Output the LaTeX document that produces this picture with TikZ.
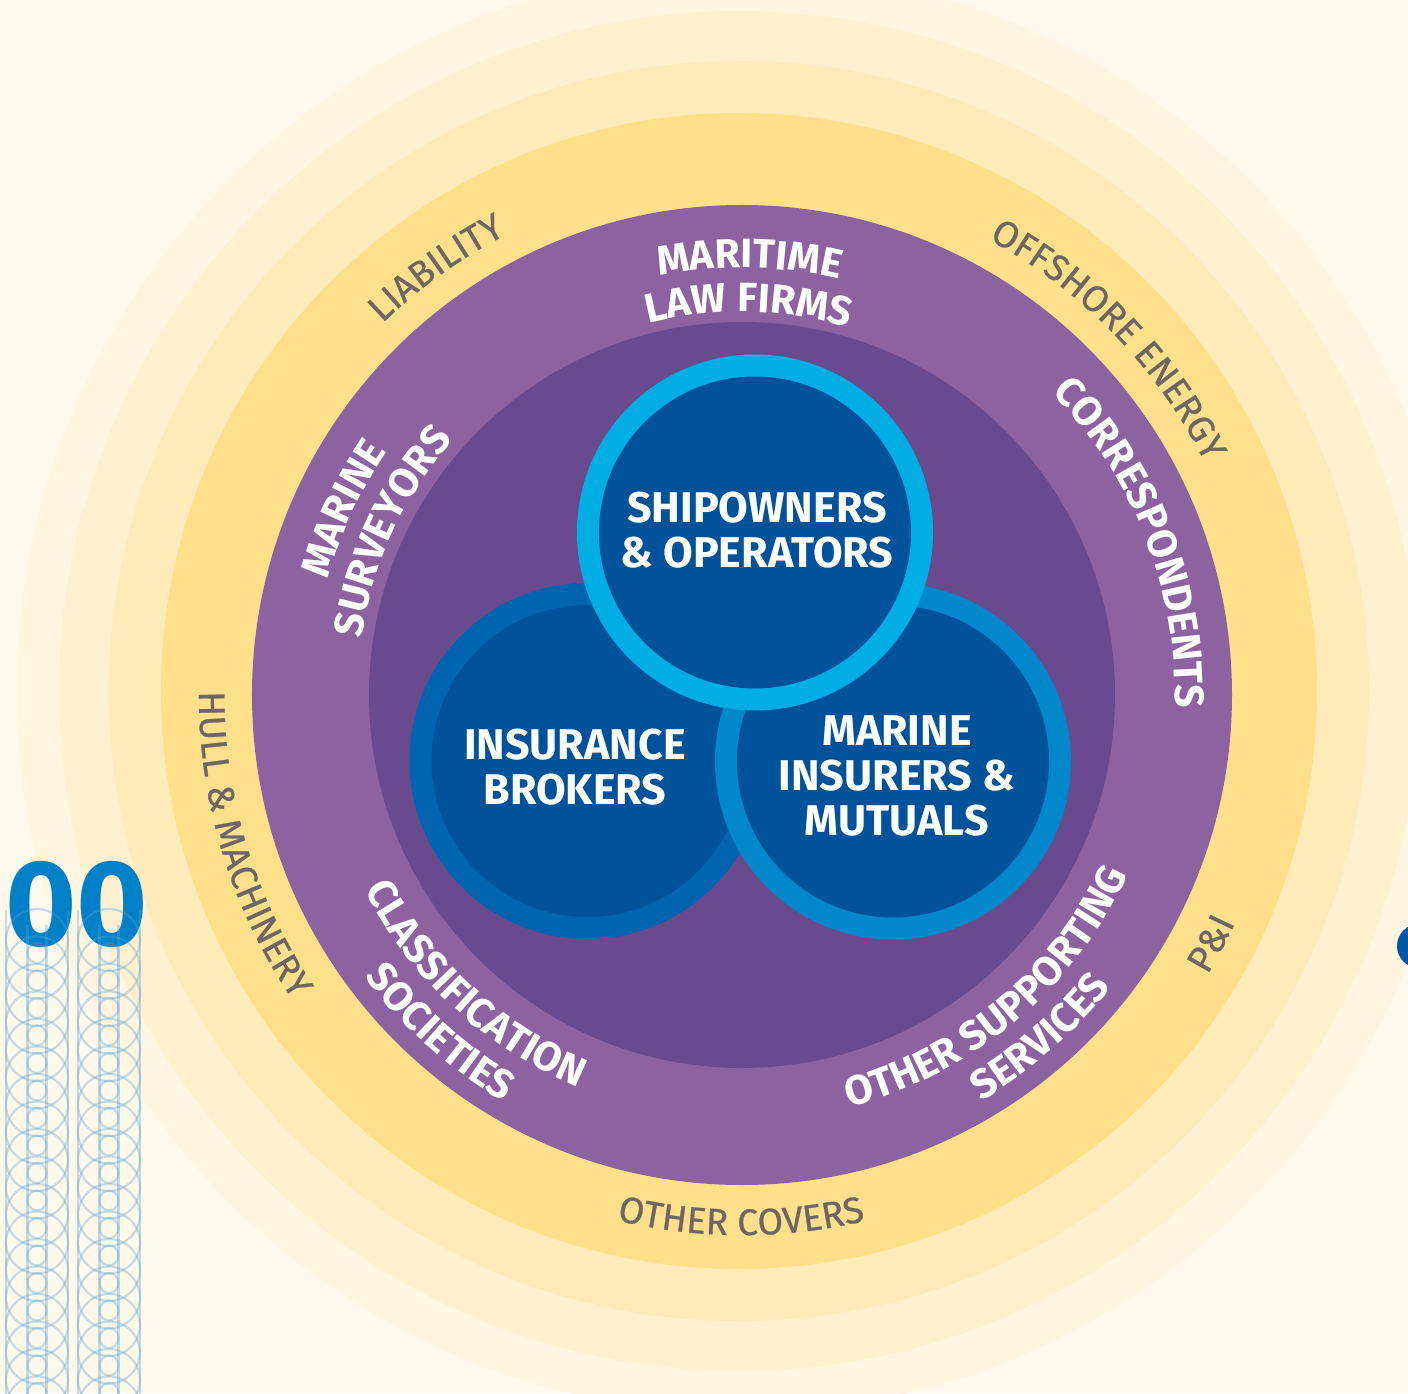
\documentclass[tikz,border=0pt]{standalone}
\usepackage{fontspec}
\usetikzlibrary{decorations.text}
\newfontfamily\fira{Fira Sans}
\newfontfamily\firamed{Fira Sans}[FakeBold=0.7]
\definecolor{bgc}{HTML}{FFF9EC}
\definecolor{ya}{HTML}{FFF5E0}
\definecolor{yb}{HTML}{FFF0D0}
\definecolor{yc}{HTML}{FFEABA}
\definecolor{yd}{HTML}{FFE08A}
\definecolor{purA}{HTML}{8C62A0}
\definecolor{purB}{HTML}{694A8E}
\definecolor{navy}{HTML}{00539B}
\definecolor{ringtop}{HTML}{00AEE4}
\definecolor{ringleft}{HTML}{0064AF}
\definecolor{ringright}{HTML}{0088CA}
\definecolor{lblgray}{HTML}{6E6666}
\definecolor{bignum}{HTML}{0080C6}
\definecolor{patblue}{HTML}{5BA3D0}
\definecolor{edgeblue}{HTML}{0055A5}
\tikzset{
  wlabel/.style={decorate, decoration={text along path, text align=center, text color=white,
    text={|\fira\bfseries\fontsize{41}{41}\selectfont|#1}}},
  glabel/.style={decorate, decoration={text along path, text align=center, text color=lblgray,
    text={|\firamed\fontsize{37}{37}\selectfont|#1}}},
  bubbletxt/.style={text=white, align=center, inner sep=0pt,
    font=\fira\bfseries\fontsize{43}{45}\selectfont},
  patline/.style={draw=patblue, draw opacity=0.35, line width=2.2pt},
}
\begin{document}
\begin{tikzpicture}[x=1pt,y=1pt]
\clip (-742,-698) rectangle (666,695);
\fill[bgc] (-742,-698) rectangle (666,695);
% yellow halo rings
\fill[ya] (-3,4) circle[radius=722pt];
\fill[yb] (-3,4) circle[radius=680pt];
\fill[yc] (-3,4) circle[radius=630pt];
\fill[yd] (-3,4) circle[radius=578pt];
% purple discs
\fill[purA] (0,0) circle[radius=490pt];
\fill[purB] (0,0) circle[radius=373pt];
% blue circles
\fill[ringleft] (-154.5,-66) circle[radius=178pt];
\fill[navy] (-154.5,-66) circle[radius=156pt];
\fill[ringright] (151,-66.5) circle[radius=178pt];
\fill[navy] (151,-66.5) circle[radius=156pt];
\fill[ringtop] (13,162.5) circle[radius=178pt];
\fill[navy] (13,162.5) circle[radius=156pt];
% circle texts
\node[bubbletxt] (ship) at (15,164.5) {SHIPOWNERS\\\& OPERATORS};
\node[bubbletxt] (brok) at (-167,-72.5) {INSURANCE\\BROKERS};
\node[bubbletxt] (mari) at (155,-81) {MARINE\\INSURERS \&\\MUTUALS};
% purple ring labels
\path[wlabel={MARITIME}] (159:427pt) arc[start angle=159,end angle=19,radius=427pt];
\path[wlabel={LAW FIRMS}] (159:383pt) arc[start angle=159,end angle=19,radius=383pt];
\path[wlabel={MARINE}] (225:430pt) arc[start angle=225,end angle=85,radius=430pt];
\path[wlabel={SURVEYORS}] (225:385pt) arc[start angle=225,end angle=85,radius=385pt];
\path[wlabel={CORRESPONDENTS}] (91.3:433pt) arc[start angle=91.3,end angle=-48.7,radius=433pt];
\path[wlabel={CLASSIFICATION}] (157.3:425pt) arc[start angle=157.3,end angle=297.3,radius=425pt];
\path[wlabel={SOCIETIES}] (158.2:471pt) arc[start angle=158.2,end angle=298.2,radius=471pt];
\path[wlabel={OTHER SUPPORTING}] (239.8:426pt) arc[start angle=239.8,end angle=379.8,radius=426pt];
\path[wlabel={SERVICES}] (241.1:471pt) arc[start angle=241.1,end angle=381.1,radius=471pt];
% yellow ring labels
\path[glabel={LIABILITY}] (195.6:517pt) arc[start angle=195.6,end angle=55.6,radius=517pt];
\path[glabel={OFFSHORE ENERGY}] (114.1:518pt) arc[start angle=114.1,end angle=-25.9,radius=518pt];
\path[glabel={HULL {\&} MACHINERY}] (126.9:543pt) arc[start angle=126.9,end angle=266.9,radius=543pt];
\path[glabel={P{\&}I}] (262.1:543pt) arc[start angle=262.1,end angle=402.1,radius=543pt];
\path[glabel={OTHER COVERS}] (199.9:540pt) arc[start angle=199.9,end angle=339.9,radius=540pt];
% left decoration: big number and circle pattern
\node[anchor=base west, inner sep=0pt, text=bignum, font=\fira\bfseries\fontsize{122}{122}\selectfont] (num) at (-737,-250) {00};
\foreach \cx in {-705,-633} {
  \draw[patline] (\cx-31,-215) -- (\cx-31,-700);
  \draw[patline] (\cx+31,-215) -- (\cx+31,-700);
  \draw[patline] (\cx-9.5,-230) -- (\cx-9.5,-700);
  \draw[patline] (\cx+9.5,-230) -- (\cx+9.5,-700);
  \foreach \k in {0,...,18} {
    \draw[patline] (\cx,-245-27.5*\k) ellipse[x radius=31pt, y radius=31pt];
    \draw[patline] (\cx,-258-27.5*\k) ellipse[x radius=9.5pt, y radius=10pt];
  }
}
% partial shape at right edge
\fill[edgeblue] (677,-251) circle[radius=22pt];
\end{tikzpicture}
\end{document}
